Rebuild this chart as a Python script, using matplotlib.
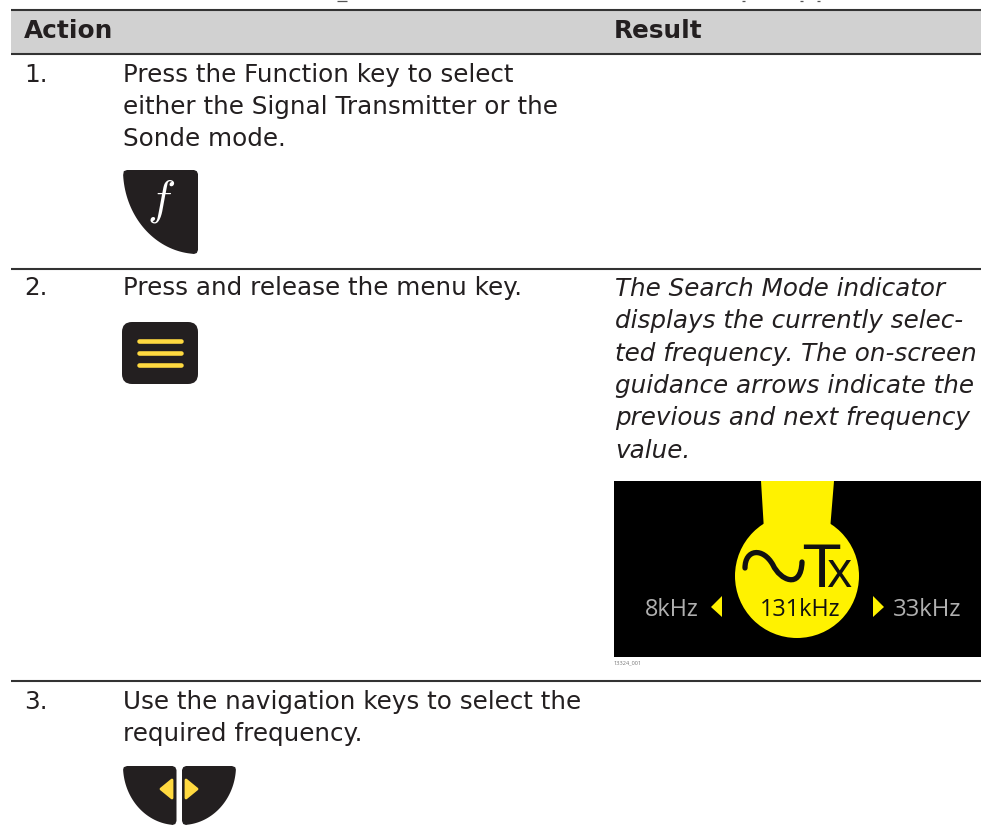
import matplotlib
matplotlib.use('Agg')
import matplotlib.pyplot as plt
from matplotlib.patches import Polygon, FancyBboxPatch, Circle, PathPatch
from matplotlib.path import Path
import numpy as np

FONT = 'DejaVu Sans'
SCREEN_FONT = 'Open Sans'
W, H = 981, 833

# Table text
headers = ['Action', 'Result']
step_numbers = ['1.', '2.', '3.']
step1_lines = ['Press the Function key to select', 'either the Signal Transmitter or the', 'Sonde mode.']
step2_lines = ['Press and release the menu key.']
step3_lines = ['Use the navigation keys to select the', 'required frequency.']
result_lines = ['The Search Mode indicator', 'displays the currently selec-', 'ted frequency. The on-screen',
                'guidance arrows indicate the', 'previous and next frequency', 'value.']
freq_labels = ['8kHz', '131kHz', '33kHz']
image_id = '13324_001'

fig = plt.figure(figsize=(W / 100, H / 100), dpi=100)
ax = fig.add_axes([0, 0, 1, 1])
ax.set_xlim(0, W)
ax.set_ylim(H, 0)
ax.axis('off')

DARK = '#231f20'
KEY_YELLOW = '#ffd940'
SCREEN_YELLOW = '#fff200'
GLYPH = '#111111'
DIM = '#b0b0b0'


def txt(x, y, s, size=17.7, **kw):
    ax.text(x, y, s, fontsize=size, family=FONT, color=DARK, va='baseline', **kw)


def curved_key(x_flat, x_round, y_top, y_bot):
    # key shape: flat top, straight inner side, quarter ellipse outer edge
    side = np.sign(x_flat - x_round)
    theta = np.linspace(0.06, np.pi / 2 - 0.1, 40)
    cx = x_flat - (x_flat - x_round) * np.cos(theta)
    cy = y_top + (y_bot - y_top) * np.sin(theta)
    poly = [(x_round + side * 4, y_top), (x_flat - side * 4, y_top), (x_flat - side * 1.2, y_top + 1.2),
            (x_flat, y_top + 4), (x_flat, y_bot - 4), (x_flat - side * 1.2, y_bot - 1),
            (x_flat - side * 4, y_bot)]
    poly += list(zip(cx[::-1], cy[::-1]))
    poly += [(x_round + side * 0.8, y_top + 1.2)]
    ax.add_patch(Polygon(poly, closed=True, fc=DARK, ec='none'))


# bits of the clipped heading above the table
for x0, x1 in [(337, 347), (742, 745), (800, 803), (817, 820)]:
    ax.plot([x0, x1], [0.6, 0.6], color='#555555', lw=0.9, solid_capstyle='butt')

# table frame
ax.add_patch(plt.Rectangle((11, 10), W - 11, 43, fc='#d1d1d1', ec='none'))
for y in [9.5, 53.5, 269, 681]:
    ax.plot([11, W], [y, y], color='#333333', lw=1.5, solid_capstyle='butt')

txt(24, 38, headers[0], weight='bold', size=17.8)
txt(614, 38, headers[1], weight='bold', size=17.8)

# step text
for y, s in zip([82, 295, 709], step_numbers):
    txt(24, y, s)
for i, s in enumerate(step1_lines):
    txt(123, 82 + i * 32, s)
txt(123, 295, step2_lines[0])
for i, s in enumerate(step3_lines):
    txt(123, 709 + i * 32, s)
for i, s in enumerate(result_lines):
    txt(615, 296 + i * 32.3, s, style='italic')

# function key
curved_key(198, 123, 170, 254)
ax.text(147, 213, '$f$', fontsize=34, color='white', math_fontfamily='cm')

# menu key
ax.add_patch(FancyBboxPatch((132, 332), 56, 42, boxstyle='round,pad=10,rounding_size=10', fc=DARK, ec='none'))
for y in [340.7, 353, 365]:
    ax.plot([139, 181], [y, y], color=KEY_YELLOW, lw=3.3, solid_capstyle='round')

# frequency screen
ax.add_patch(plt.Rectangle((614, 481), W - 614, 176, fc='black', ec='none'))
ax.add_patch(Circle((797, 576), 62, fc=SCREEN_YELLOW, ec='none'))
ax.add_patch(Polygon([(761, 481), (834, 481), (830, 530), (764, 530)], closed=True, fc=SCREEN_YELLOW, ec='none'))
tilde = Path([(745, 568), (745, 549), (763, 547), (773, 565), (780, 580), (801, 590), (802, 562)],
             [Path.MOVETO, Path.CURVE4, Path.CURVE4, Path.CURVE4, Path.CURVE4, Path.CURVE4, Path.CURVE4])
ax.add_patch(PathPatch(tilde, fc='none', ec=GLYPH, lw=3.8, capstyle='round'))
ax.text(803, 587, 'T', fontsize=42.5, color=GLYPH, family='Liberation Sans Narrow', va='baseline')
ax.text(826, 587, 'x', fontsize=35, color=GLYPH, family=SCREEN_FONT, va='baseline')
ax.text(645, 616, freq_labels[0], fontsize=16.8, color=DIM, family=SCREEN_FONT)
ax.text(760, 616, freq_labels[1], fontsize=16.8, color=GLYPH, family=SCREEN_FONT)
ax.text(893, 616, freq_labels[2], fontsize=17.2, color=DIM, family=SCREEN_FONT)
ax.add_patch(Polygon([(711, 607), (722, 596), (722, 617)], closed=True, fc=SCREEN_YELLOW, ec='none'))
ax.add_patch(Polygon([(884, 607), (873, 596), (873, 617)], closed=True, fc=SCREEN_YELLOW, ec='none'))
ax.text(614, 664, image_id, fontsize=4.1, color='#777777', family=SCREEN_FONT)

# navigation keys
curved_key(176.5, 123, 766, 825)
curved_key(182, 236, 766, 825)
ax.add_patch(Polygon([(161, 789), (172, 780), (172, 798)], closed=True, fc=KEY_YELLOW, ec=KEY_YELLOW, lw=2, joinstyle='round'))
ax.add_patch(Polygon([(197, 789), (186, 780), (186, 798)], closed=True, fc=KEY_YELLOW, ec=KEY_YELLOW, lw=2, joinstyle='round'))

fig.savefig('out.png', dpi=100)
